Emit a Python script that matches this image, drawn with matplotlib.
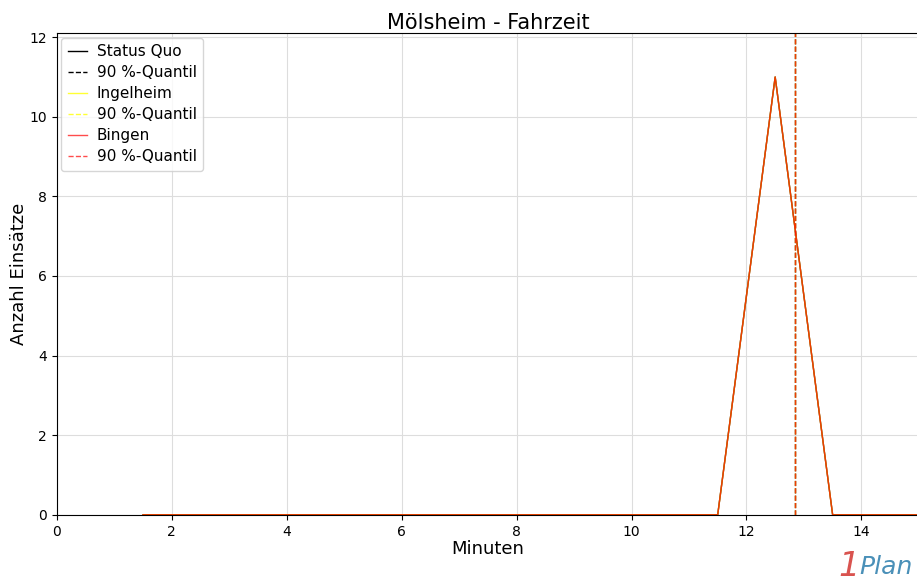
import matplotlib
matplotlib.use('Agg')
import numpy as np
import matplotlib.pyplot as plt

minuten = [1.5, 2.5, 3.5, 4.5, 5.5, 6.5, 7.5, 8.5, 9.5, 10.5, 11.5, 12.5, 13.5, 14.5, 15.5]
status_quo = [0, 0, 0, 0, 0, 0, 0, 0, 0, 0, 0, 11, 0, 0, 0]
ingelheim = [0, 0, 0, 0, 0, 0, 0, 0, 0, 0, 0, 11, 0, 0, 0]
bingen = [0, 0, 0, 0, 0, 0, 0, 0, 0, 0, 0, 11, 0, 0, 0]
quantil_sq = 12.85
quantil_ing = 12.85
quantil_bin = 12.85

fig = plt.figure(figsize=(9.17, 5.83), dpi=100)
ax = fig.add_axes([0.062, 0.117, 0.94, 0.826])

ax.plot(minuten, status_quo, color='black', lw=1.0, label='Status Quo')
ax.axvline(quantil_sq, color='black', ls='--', lw=1.0, label='90 %-Quantil')
ax.plot(minuten, ingelheim, color='yellow', lw=1.0, alpha=0.8, label='Ingelheim')
ax.axvline(quantil_ing, color='yellow', ls='--', lw=1.0, alpha=0.8, label='90 %-Quantil')
ax.plot(minuten, bingen, color='red', lw=1.0, alpha=0.7, label='Bingen')
ax.axvline(quantil_bin, color='red', ls='--', lw=1.0, alpha=0.7, label='90 %-Quantil')

ax.set_xlim(0, 15)
ax.set_ylim(0, max(status_quo) * 1.1)
ax.set_xticks([0, 2, 4, 6, 8, 10, 12, 14])
ax.set_yticks([0, 2, 4, 6, 8, 10, 12])
ax.tick_params(labelsize=10)
ax.grid(True, color='#dddddd', lw=0.8)
ax.set_axisbelow(True)
ax.set_title('Mölsheim - Fahrzeit', fontsize=15, pad=3)
ax.set_xlabel('Minuten', fontsize=13, labelpad=1)
ax.set_ylabel('Anzahl Einsätze', fontsize=13, labelpad=1)
ax.legend(loc='upper left', fontsize=11, handlelength=1.3, borderaxespad=0.3,
          labelspacing=0.4, handletextpad=0.6)

fig.text(0.937, 0.012, '1', color='#d9534f', fontsize=24, style='italic', ha='right')
fig.text(0.937, 0.015, 'Plan', color='#4a90b8', fontsize=18, style='italic', ha='left')

fig.savefig('out.png', dpi=100)
